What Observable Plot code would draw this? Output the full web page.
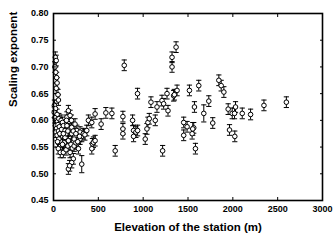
<!DOCTYPE html>
<html>
<head>
<meta charset="utf-8">
<script src="https://cdn.jsdelivr.net/npm/d3@7"></script>
<script src="https://cdn.jsdelivr.net/npm/@observablehq/plot@0.6"></script>
<style>
html,body{margin:0;padding:0;background:#fff;}
svg{font-family:"Liberation Sans",Arial,sans-serif;}
</style>
</head>
<body>
<div id="chart"></div>
<script>
const elevation = [
  20,30,15,25,35,40,30,50,55,10,22,8,40,
  15,30,45,60,75,20,35,50,65,85,100,25,40,55,70,90,110,60,45,
  54,75,110,
  129,129,150,166,185,166,185,203,203,221,240,240,260,260,278,278,296,296,315,333,
  140,160,185,221,203,166,180,315,
  150,175,200,220,230,250,140,160,195,210,230,250,270,290,350,371,389,427,464,531,
  434,445,427,464,110,120,145,100,
  584,651,688,774,789,774,774,882,893,919,893,938,937,1023,1042,1053,1068,1087,
  1135,1154,1210,1228,1266,1277,1217,1322,1322,1340,1367,1378,1348,1452,1452,1490,
  1516,1546,1564,1572,1583,1620,1676,1732,1776,1844,1870,1900,1948,1963,1993,2019,
  2030,2022,2105,2198,2347,2597,1553
];
const exponent = [
  0.718,0.712,0.700,0.690,0.680,0.670,0.660,0.648,0.638,0.628,0.622,0.615,0.611,
  0.605,0.600,0.598,0.603,0.595,0.590,0.585,0.592,0.588,0.600,0.596,0.578,0.572,0.580,0.575,0.583,0.590,0.565,0.560,
  0.547,0.540,0.540,
  0.568,0.581,0.606,0.618,0.609,0.562,0.585,0.587,0.575,0.559,0.593,0.570,0.581,0.556,0.565,0.547,0.578,0.565,0.570,0.575,
  0.545,0.552,0.540,0.528,0.521,0.509,0.515,0.518,
  0.590,0.598,0.600,0.580,0.565,0.575,0.575,0.580,0.555,0.548,0.552,0.558,0.560,0.570,0.573,0.581,0.600,0.596,0.612,0.593,
  0.556,0.559,0.547,0.562,0.575,0.558,0.600,0.555,
  0.614,0.613,0.543,0.607,0.703,0.584,0.575,0.600,0.581,0.578,0.570,0.581,0.650,0.565,0.584,0.596,0.603,0.634,
  0.600,0.625,0.637,0.631,0.650,0.618,0.543,0.718,0.700,0.646,0.737,0.656,0.648,0.596,0.572,0.588,
  0.656,0.575,0.586,0.625,0.547,0.665,0.613,0.636,0.595,0.675,0.665,0.653,0.621,0.582,0.613,0.613,
  0.625,0.570,0.613,0.611,0.628,0.634,0.584
];
const errorHalf = elevation.map((e, i) => {
  if (e === 315 && exponent[i] === 0.518) return 0.016;
  if (e === 1676) return 0.016;
  if (e === 1553) return 0.012;
  return 0.010;
});
const xTicks = [0, 500, 1000, 1500, 2000, 2500, 3000];
const yTicks = [0.45, 0.50, 0.55, 0.60, 0.65, 0.70, 0.75, 0.80];

const data = elevation.map((e, i) => ({x: e, y: exponent[i], lo: exponent[i] - errorHalf[i], hi: exponent[i] + errorHalf[i]}));

const capSymbol = {
  draw(context, size) {
    const w = 2.6;
    context.moveTo(-w, 0);
    context.lineTo(w, 0);
  }
};

const chart = Plot.plot({
  width: 335,
  height: 244,
  marginLeft: 53,
  marginRight: 13,
  marginTop: 13,
  marginBottom: 44,
  style: {fontFamily: "'Liberation Sans', Arial, sans-serif", background: "#fff", color: "#000"},
  x: {domain: [0, 3000]},
  y: {domain: [0.45, 0.80]},
  marks: [
    Plot.ruleX(data, {x: "x", y1: "lo", y2: "hi", stroke: "#000", strokeWidth: 1}),
    Plot.dot(data, {x: "x", y: "lo", symbol: capSymbol, r: 3, stroke: "#000", strokeWidth: 1, fill: "none"}),
    Plot.dot(data, {x: "x", y: "hi", symbol: capSymbol, r: 3, stroke: "#000", strokeWidth: 1, fill: "none"}),
    Plot.dot(data, {x: "x", y: "y", r: 2.3, stroke: "#000", strokeWidth: 1, fill: "#fff"}),
    Plot.axisX({anchor: "bottom", ticks: xTicks, tickSize: -3, tickPadding: 8, fontSize: 9, fontWeight: "bold", label: null, tickFormat: d => String(d)}),
    Plot.axisX({anchor: "top", ticks: xTicks, tickSize: -3, tickFormat: () => "", label: null}),
    Plot.axisY({anchor: "left", ticks: yTicks, tickSize: -3, tickPadding: 8, fontSize: 9, fontWeight: "bold", label: null, tickFormat: d3.format(".2f")}),
    Plot.axisY({anchor: "right", ticks: yTicks, tickSize: -3, tickFormat: () => "", label: null}),
    Plot.frame({stroke: "#000", strokeWidth: 1.6}),
    Plot.text(["Elevation of the station (m)"], {frameAnchor: "bottom", dy: 30, fontSize: 11.5, fontWeight: "bold", fill: "#000"}),
    Plot.text(["Scaling exponent"], {frameAnchor: "left", dx: -40, rotate: -90, fontSize: 11.5, fontWeight: "bold", fill: "#000"})
  ]
});
document.getElementById("chart").appendChild(chart);
</script>
</body>
</html>
